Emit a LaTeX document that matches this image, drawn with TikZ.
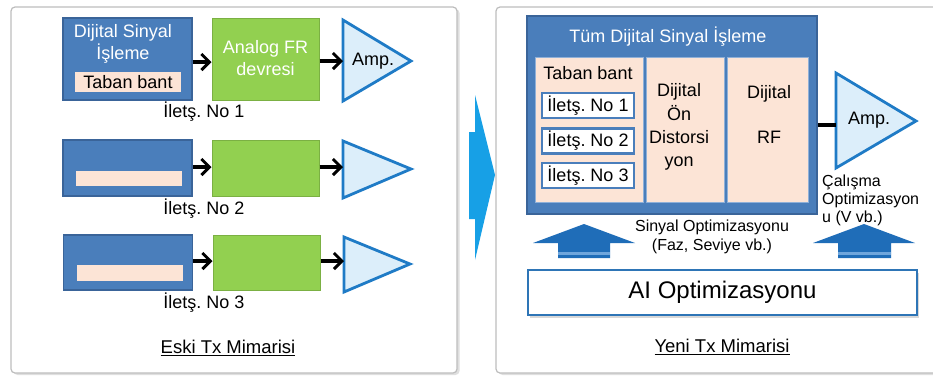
\documentclass[tikz,border=0pt]{standalone}
\usepackage{fontspec}
\setmainfont{Liberation Sans}
\usetikzlibrary{arrows.meta,shadows}
\definecolor{dspblue}{HTML}{4A7EBB}
\definecolor{dspborder}{HTML}{3A6499}
\definecolor{frgreen}{HTML}{92D050}
\definecolor{frborder}{HTML}{7BB043}
\definecolor{peach}{HTML}{FCE4D6}
\definecolor{ampfill}{HTML}{DCEEFA}
\definecolor{ampborder}{HTML}{1F7BC6}
\definecolor{panelgray}{HTML}{BDBDBD}
\definecolor{bigarrow}{HTML}{17A0E6}
\definecolor{blockblue}{HTML}{1F6DB8}
\definecolor{blocklight}{HTML}{6FA6DC}
\definecolor{colline}{HTML}{8FB0D8}
\definecolor{chanborder}{HTML}{4A7EBB}
\definecolor{aiborder}{HTML}{2E75B6}
\tikzset{
  panel/.style={draw=panelgray, line width=1.2pt, rounded corners=4pt, fill=white,
    drop shadow={shadow xshift=2.5pt, shadow yshift=-2pt, opacity=0.25}},
  dspbox/.style={draw=dspborder, fill=dspblue, line width=1.2pt, inner sep=0pt,
    minimum width=129pt},
  frbox/.style={draw=frborder, fill=frgreen, line width=1pt, inner sep=0pt,
    minimum width=107pt},
  bandbox/.style={fill=peach, inner sep=0pt, minimum width=106pt},
  amptri/.style={draw=ampborder, fill=ampfill, line width=2.8pt, line join=miter},
  flow/.style={line width=3.2pt, -{Straight Barb[length=8pt,width=16pt,line width=3pt]}},
  wtext/.style={text=white, inner sep=0pt, font=\fontsize{18}{22}\selectfont, align=center},
  btext/.style={text=black, inner sep=0pt, font=\fontsize{18}{22}\selectfont, align=center},
  stext/.style={text=black, inner sep=0pt, font=\fontsize{16}{19}\selectfont},
  colbox/.style={fill=peach, draw=colline, line width=1pt, inner sep=0pt, minimum height=145pt},
  chanbox/.style={fill=white, draw=chanborder, line width=2.5pt, inner sep=0pt,
    minimum width=92pt, minimum height=25pt, font=\fontsize{18}{22}\selectfont},
  blockarrow/.style={fill=blockblue},
  aibox/.style={draw=aiborder, fill=white, line width=2.5pt, inner sep=0pt,
    minimum width=389pt, minimum height=45pt, font=\fontsize{24}{28}\selectfont,
    drop shadow={shadow xshift=2pt, shadow yshift=-3pt, opacity=0.3}},
  caption/.style={inner sep=0pt, font=\fontsize{18.5}{22}\selectfont}
}
\begin{document}
\frenchspacing
\begin{tikzpicture}[x=1pt,y=-1pt]
\useasboundingbox (0,0) rectangle (933,376);
% panels
\path[panel] (11,7) rectangle (457,373);
\path[panel] (496,7) rectangle (950,373);

% ---- Old architecture ----
% row 1
\node[dspbox, minimum height=82pt] (dsp1) at (127.5,59) {};
\node[wtext] (dsp1t) at (123,44) {Dijital Sinyal\\İşleme};
\node[bandbox, minimum height=20pt, text=black, font=\fontsize{18}{22}\selectfont] (band1) at (128,82) {Taban bant};
\node[frbox, minimum height=82pt] (fr1) at (265.5,59) {};
\node[wtext] (fr1t) at (265.5,58) {Analog FR\\devresi};
\draw[amptri] (343,20) -- (411,61) -- (343,101) -- cycle;
\coordinate (amp1in) at (343,61);
\node[btext] (amp1) at (373,61) {Amp.};
\draw[flow] (dsp1.east |- 0,62) -- (fr1.west |- 0,62);
\draw[flow] (fr1.east |- amp1in) -- (amp1in);
\node[btext] (lab1) at (204,112) {İletş. No 1};

% row 2
\node[dspbox, minimum height=56pt] (dsp2) at (127.5,168) {};
\node[bandbox, minimum height=15pt] (band2) at (128.5,178.5) {};
\node[frbox, minimum height=56pt] (fr2) at (265.5,168) {};
\draw[amptri] (343,141) -- (411,169) -- (343,198) -- cycle;
\coordinate (amp2in) at (343,167);
\draw[flow] (dsp2.east |- amp2in) -- (fr2.west |- amp2in);
\draw[flow] (fr2.east |- amp2in) -- (amp2in);
\node[btext] (lab2) at (204,209) {İletş. No 2};

% row 3
\node[dspbox, minimum height=55pt] (dsp3) at (128,262.5) {};
\node[bandbox, minimum height=16pt] (band3) at (129.5,273) {};
\node[frbox, minimum height=55pt] (fr3) at (266.5,262.5) {};
\draw[amptri] (344,237) -- (410,264) -- (344,292) -- cycle;
\coordinate (amp3in) at (344,261);
\draw[flow] (dsp3.east |- amp3in) -- (fr3.west |- amp3in);
\draw[flow] (fr3.east |- amp3in) -- (amp3in);
\node[btext] (lab3) at (204,303) {İletş. No 3};

\node[caption] (oldcap) at (228,348) {\underline{Eski Tx Mimarisi}};

% ---- middle arrow ----
\fill[bigarrow] (469,132) -- (475,132) -- (475,95) -- (495,175) -- (475,260) -- (475,219) -- (469,219) -- cycle;

% ---- New architecture ----
\node[draw=dspborder, fill=dspblue, line width=1.5pt, inner sep=0pt,
      minimum width=290pt, minimum height=198pt] (alldsp) at (672,115) {};
\node[wtext] (alltitle) at (668,37) {Tüm Dijital Sinyal İşleme};
\node[colbox, minimum width=108pt] (col1) at (589,129.5) {};
\node[colbox, minimum width=78pt] (col2) at (685,129.5) {};
\node[colbox, minimum width=81pt] (col3) at (767.5,129.5) {};
\node[btext] (tb) at (588,73) {Taban bant};
\node[chanbox] (ch1) at (588,105.5) {İletş. No 1};
\node[chanbox] (ch2) at (588,141) {İletş. No 2};
\node[chanbox] (ch3) at (588,175.5) {İletş. No 3};
\node[btext, font=\fontsize{18}{23.3}\selectfont] (dpd) at (679,127) {Dijital\\Ön\\Distorsi\\yon};
\node[btext] (drf) at (769,114.5) {Dijital\\[23pt]RF};

\draw[amptri] (836,73) -- (916,121) -- (836,168) -- cycle;
\coordinate (amp4in) at (836,125);
\node[btext] (amp4) at (869,120) {Amp.};
\draw[line width=3.5pt] (alldsp.east |- amp4in) -- (amp4in);
\node[stext, anchor=west, align=left, font=\fontsize{16}{18}\selectfont] (opt) at (822,200) {Çalışma\\Optimizasyon\\u (V vb.)};

% block arrows
\fill[blockarrow] (558,258) -- (558,243) -- (533,243) -- (584,224) -- (635,243) -- (610,243) -- (610,258) -- cycle;
\fill[blocklight] (558,252) rectangle (610,254.5);
\fill[blockarrow] (838,258) -- (838,243) -- (813,243) -- (864,224) -- (915,243) -- (891,243) -- (891,258) -- cycle;
\fill[blocklight] (838,252) rectangle (891,254.5);
\node[stext, align=center] (sig) at (712,236.5) {Sinyal Optimizasyonu\\(Faz, Seviye vb.)};

\node[aibox] (ai) at (722.5,292.5) {AI Optimizasyonu};

\node[caption] (newcap) at (722,347) {\underline{Yeni Tx Mimarisi}};
\end{tikzpicture}
\end{document}
